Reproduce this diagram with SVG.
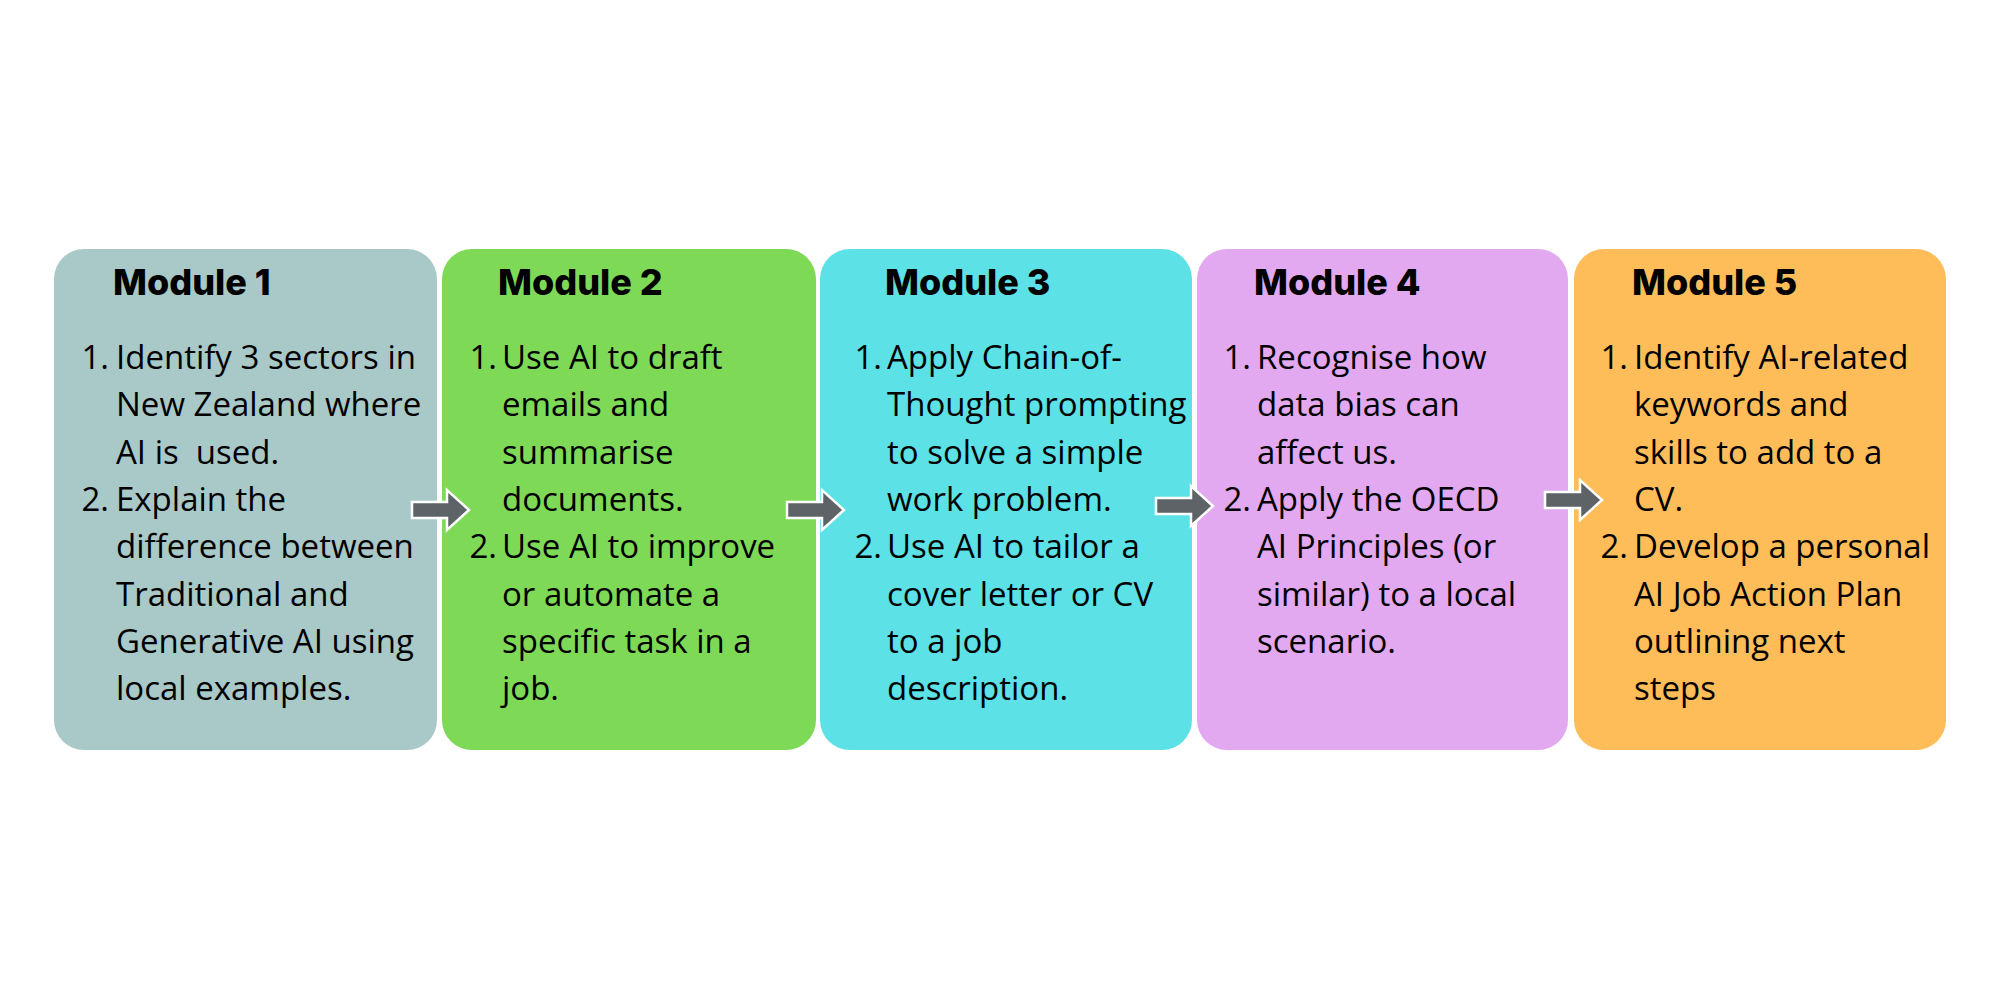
<svg xmlns="http://www.w3.org/2000/svg" width="2000" height="1000" viewBox="0 0 2000 1000">
<style>
.box{stroke:none}
.title{font-family:Inter,"Liberation Sans",sans-serif;font-weight:800;font-size:36px;fill:#000}
.body{font-family:"Open Sans","Liberation Sans",sans-serif;font-size:33px;fill:#000}
.num{font-family:"Open Sans","Liberation Sans",sans-serif;font-size:33px;fill:#000;text-anchor:end}
.arrow{fill:#5E6367;stroke:#fff;stroke-width:2.5;stroke-linejoin:miter}
</style>
<defs>
<path id="arr" d="M0,-8 L35,-8 L35,-20 L57,0 L35,20 L35,8 L0,8 Z"/>
</defs>
<rect width="2000" height="1000" fill="#fff"/>

<g id="module1">
<rect class="box" x="54" y="249" width="383" height="501" rx="30" fill="#A9C8C8"/>
<text class="title" x="113" y="295">Module 1</text>
<text class="num" x="109" y="369">1.</text>
<text class="body" x="116" y="369">Identify 3 sectors in</text>
<text class="body" x="116" y="416">New Zealand where</text>
<text class="body" x="116" y="464" xml:space="preserve">AI is  used.</text>
<text class="num" x="109" y="511">2.</text>
<text class="body" x="116" y="511">Explain the</text>
<text class="body" x="116" y="558">difference between</text>
<text class="body" x="116" y="606">Traditional and</text>
<text class="body" x="116" y="653">Generative AI using</text>
<text class="body" x="116" y="700">local examples.</text>
</g>

<g id="module2">
<rect class="box" x="442" y="249" width="374" height="501" rx="30" fill="#7ED957"/>
<text class="title" x="498" y="295">Module 2</text>
<text class="num" x="497" y="369">1.</text>
<text class="body" x="502" y="369">Use AI to draft</text>
<text class="body" x="502" y="416">emails and</text>
<text class="body" x="502" y="464">summarise</text>
<text class="body" x="502" y="511">documents.</text>
<text class="num" x="497" y="558">2.</text>
<text class="body" x="502" y="558">Use AI to improve</text>
<text class="body" x="502" y="606">or automate a</text>
<text class="body" x="502" y="653">specific task in a</text>
<text class="body" x="502" y="700">job.</text>
</g>

<g id="module3">
<rect class="box" x="820" y="249" width="372" height="501" rx="30" fill="#5CE1E6"/>
<text class="title" x="885" y="295">Module 3</text>
<text class="num" x="882" y="369">1.</text>
<text class="body" x="887" y="369">Apply Chain-of-</text>
<text class="body" x="887" y="416">Thought prompting</text>
<text class="body" x="887" y="464">to solve a simple</text>
<text class="body" x="887" y="511">work problem.</text>
<text class="num" x="882" y="558">2.</text>
<text class="body" x="887" y="558">Use AI to tailor a</text>
<text class="body" x="887" y="606">cover letter or CV</text>
<text class="body" x="887" y="653">to a job</text>
<text class="body" x="887" y="700">description.</text>
</g>

<g id="module4">
<rect class="box" x="1197" y="249" width="371" height="501" rx="30" fill="#E2A9F1"/>
<text class="title" x="1254" y="295">Module 4</text>
<text class="num" x="1251" y="369">1.</text>
<text class="body" x="1257" y="369">Recognise how</text>
<text class="body" x="1257" y="416">data bias can</text>
<text class="body" x="1257" y="464">affect us.</text>
<text class="num" x="1251" y="511">2.</text>
<text class="body" x="1257" y="511">Apply the OECD</text>
<text class="body" x="1257" y="558">AI Principles (or</text>
<text class="body" x="1257" y="606">similar) to a local</text>
<text class="body" x="1257" y="653">scenario.</text>
</g>

<g id="module5">
<rect class="box" x="1574" y="249" width="372" height="501" rx="30" fill="#FFBD59"/>
<text class="title" x="1632" y="295">Module 5</text>
<text class="num" x="1628" y="369">1.</text>
<text class="body" x="1634" y="369">Identify AI-related</text>
<text class="body" x="1634" y="416">keywords and</text>
<text class="body" x="1634" y="464">skills to add to a</text>
<text class="body" x="1634" y="511">CV.</text>
<text class="num" x="1628" y="558">2.</text>
<text class="body" x="1634" y="558">Develop a personal</text>
<text class="body" x="1634" y="606">AI Job Action Plan</text>
<text class="body" x="1634" y="653">outlining next</text>
<text class="body" x="1634" y="700">steps</text>
</g>

<g id="connectors">
<use href="#arr" class="arrow" transform="translate(412,510)"/>
<use href="#arr" class="arrow" transform="translate(787,510)"/>
<use href="#arr" class="arrow" transform="translate(1156,506)"/>
<use href="#arr" class="arrow" transform="translate(1545,500)"/>
</g>
</svg>
